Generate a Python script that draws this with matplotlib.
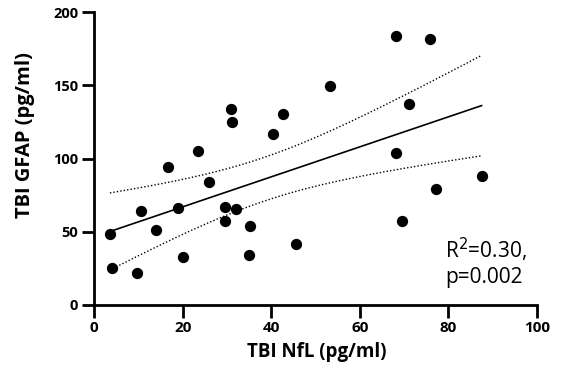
import numpy as np
import matplotlib
matplotlib.use("Agg")
import matplotlib.pyplot as plt

nfl = [3.6, 4.1, 9.6, 10.5, 13.9, 16.8, 19.0, 20.2, 23.4, 25.9, 29.6, 29.6, 31.0, 31.1,
       32.1, 35.3, 35.1, 40.5, 42.6, 45.6, 53.3, 68.2, 75.8, 71.0, 68.1, 87.5, 77.1, 69.5]
gfap = [48.3, 25.5, 22.0, 64.2, 51.2, 94.0, 66.3, 32.8, 105.4, 84.2, 67.2, 57.6, 133.9, 125.2,
        65.8, 54.0, 34.0, 116.6, 130.2, 41.4, 149.6, 184.0, 181.5, 137.1, 103.8, 88.1, 79.2, 57.2]
xticks = [0, 20, 40, 60, 80, 100]
yticks = [0, 50, 100, 150, 200]
annot_lines = ["R$^2$=0.30,", "p=0.002"]

x = np.array(nfl)
y = np.array(gfap)
n = len(x)
slope, intercept = np.polyfit(x, y, 1)
xs = np.linspace(x.min(), x.max(), 200)
ys = intercept + slope * xs
resid = y - (intercept + slope * x)
s = np.sqrt(np.sum(resid ** 2) / (n - 2))
sxx = np.sum((x - x.mean()) ** 2)
tval = 2.056
se = s * np.sqrt(1.0 / n + (xs - x.mean()) ** 2 / sxx)

fig = plt.figure(figsize=(5.65, 3.85), dpi=100)
ax = fig.add_axes([0.1664, 0.2078, 0.784, 0.7602])
ax.plot(xs, ys, color="black", lw=1.2, zorder=2)
ax.plot(xs, ys + tval * se, color="black", lw=1.0, ls=(0, (1, 1.5)), zorder=2)
ax.plot(xs, ys - tval * se, color="black", lw=1.0, ls=(0, (1, 1.5)), zorder=2)
ax.scatter(x, y, s=66, color="black", zorder=3, linewidths=0)

ax.set_xlim(0, 100)
ax.set_ylim(0, 200)
ax.set_xticks(xticks)
ax.set_yticks(yticks)
for sp in ["top", "right"]:
    ax.spines[sp].set_visible(False)
for sp in ["left", "bottom"]:
    ax.spines[sp].set_linewidth(2.0)
ax.tick_params(axis="both", length=9, width=2.0, pad=2.5)
for lab in ax.get_xticklabels():
    lab.set_fontfamily("Open Sans")
    lab.set_fontweight("bold")
    lab.set_fontsize(11)
for lab in ax.get_yticklabels():
    lab.set_fontfamily("Open Sans")
    lab.set_fontweight("bold")
    lab.set_fontsize(10.5)
ax.set_xlabel("TBI NfL (pg/ml)", fontfamily="Open Sans", fontweight="bold", fontsize=13.5)
ax.set_ylabel("TBI GFAP (pg/ml)", fontfamily="Open Sans", fontweight="bold", fontsize=14.5)
ax.xaxis.label.set_va("center")
ax.yaxis.label.set_va("center")
ax.xaxis.set_label_coords(0.503, -0.161)
ax.yaxis.set_label_coords(-0.156, 0.58)
ax.text(0.792, 0.161, annot_lines[0], transform=ax.transAxes, fontfamily="Open Sans",
        fontsize=15, ha="left", va="baseline")
ax.text(0.792, 0.075, annot_lines[1], transform=ax.transAxes, fontfamily="Open Sans",
        fontsize=15, ha="left", va="baseline")
fig.savefig("out.png", dpi=100)
